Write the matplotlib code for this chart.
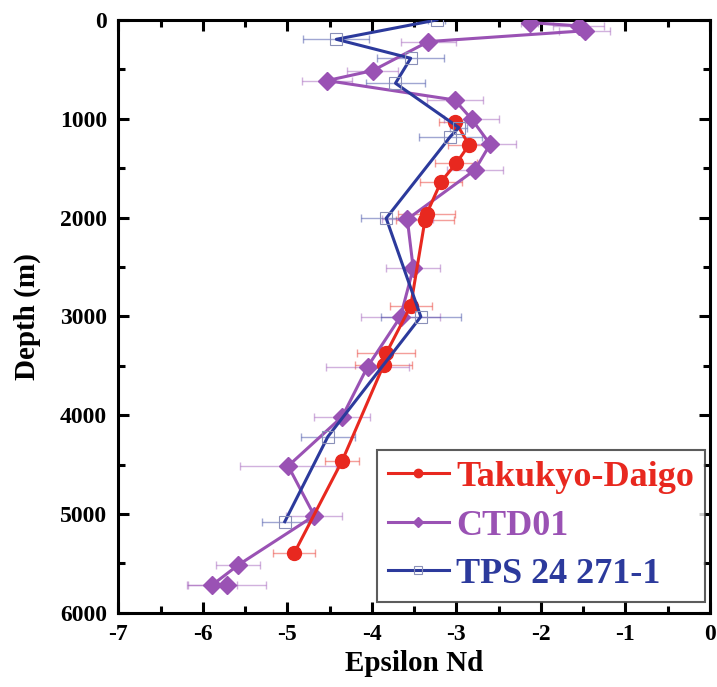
import numpy as np
import matplotlib
matplotlib.use('Agg')
from matplotlib import pyplot as plt
from matplotlib.ticker import MultipleLocator

plt.rcParams['font.family'] = ['Liberation Serif', 'DejaVu Serif']
plt.rcParams['font.weight'] = 'bold'
plt.rcParams['axes.unicode_minus'] = False

# Takukyo-Daigo
td_eps = [-3.01, -2.85, -3.00, -3.18, -3.35, -3.37, -3.54, -3.83, -3.86, -4.35, -4.92]
td_depth = [1030, 1265, 1450, 1636, 1960, 2020, 2895, 3374, 3492, 4460, 5398]
td_err = [0.20, 0.25, 0.25, 0.25, 0.34, 0.34, 0.25, 0.34, 0.34, 0.20, 0.25]

# CTD01
ctd_eps = [-2.13, -1.55, -1.48, -3.33, -3.99, -4.53, -3.02, -2.82, -2.60, -2.78,
           -3.58, -3.51, -3.66, -4.05, -4.35, -4.99, -4.68, -5.58, -5.89, -5.71]
ctd_depth = [27, 60, 110, 219, 513, 614, 810, 1002, 1258, 1518,
             2017, 2513, 3003, 3509, 4015, 4514, 5017, 5516, 5719, 5719]
ctd_err = [0.10, 0.30, 0.30, 0.33, 0.30, 0.30, 0.33, 0.32, 0.31, 0.33,
           0.30, 0.32, 0.47, 0.49, 0.33, 0.57, 0.33, 0.26, 0.30, 0.46]

# TPS 24 271-1
tps_eps = [-3.23, -4.42, -3.54, -3.72, -2.97, -3.07, -3.83, -3.42, -4.52, -5.03]
tps_depth = [0, 196, 388, 641, 1090, 1180, 2007, 3003, 4217, 5078]
tps_err = [0.10, 0.39, 0.40, 0.35, 0.10, 0.37, 0.30, 0.47, 0.32, 0.27]

c_red = '#e8281f'
c_pur = '#9a52b4'
c_blu = '#2c3a9c'

fig = plt.figure(figsize=(7.17, 6.87), dpi=100)
ax = fig.add_axes([0.165, 0.108, 0.825, 0.863])

ax.errorbar(td_eps, td_depth, xerr=td_err, fmt='none', ecolor=c_red, alpha=0.45,
            elinewidth=1, capsize=3, zorder=1)
ax.errorbar(ctd_eps, ctd_depth, xerr=ctd_err, fmt='none', ecolor=c_pur, alpha=0.45,
            elinewidth=1, capsize=3, zorder=1)
ax.errorbar(tps_eps, tps_depth, xerr=tps_err, fmt='none', ecolor=c_blu, alpha=0.45,
            elinewidth=1, capsize=3, zorder=1)

ax.plot(td_eps, td_depth, color=c_red, lw=2.2, marker='o', ms=10, label='Takukyo-Daigo', zorder=4)
ax.plot(ctd_eps, ctd_depth, color=c_pur, lw=2.2, marker='D', ms=9, label='CTD01', zorder=3)
ax.plot(tps_eps, tps_depth, color=c_blu, lw=2.2, marker='s', ms=9, mfc='none',
        mec='#8a90b8', mew=0.8, label='TPS 24 271-1', zorder=5)

ax.set_xlim(-7, 0)
ax.set_ylim(6000, 0)
ax.xaxis.set_major_locator(MultipleLocator(1))
ax.xaxis.set_minor_locator(MultipleLocator(0.5))
ax.yaxis.set_major_locator(MultipleLocator(1000))
ax.yaxis.set_minor_locator(MultipleLocator(500))
ax.tick_params(which='both', direction='in', top=True, right=True, width=2.2,
               labelsize=17, pad=8)
ax.tick_params(which='major', length=8)
ax.tick_params(which='minor', length=5)
for s in ax.spines.values():
    s.set_linewidth(2.2)
for lab in ax.get_xticklabels() + ax.get_yticklabels():
    lab.set_fontweight('bold')

ax.set_xlabel('Epsilon Nd', fontsize=21, fontweight='bold', labelpad=4)
ax.set_ylabel('Depth (m)', fontsize=21, fontweight='bold', labelpad=14)

leg = ax.legend(loc='lower right', bbox_to_anchor=(0.9916, 0.0185), frameon=True,
                fancybox=False, edgecolor='#333333', handlelength=1.7, handletextpad=0.2,
                borderpad=0.3, labelspacing=0.42, markerscale=0.6, borderaxespad=0,
                prop={'weight': 'bold', 'size': 26})
leg.get_frame().set_linewidth(1.5)
for txt, c in zip(leg.get_texts(), [c_red, c_pur, c_blu]):
    txt.set_color(c)

plt.savefig('out.png', dpi=100)
